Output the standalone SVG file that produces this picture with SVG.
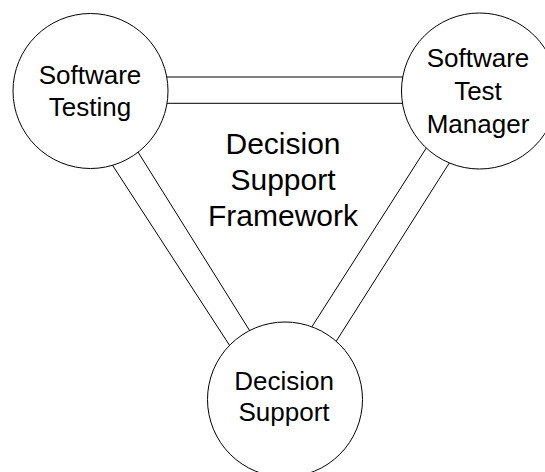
<svg xmlns="http://www.w3.org/2000/svg" width="545" height="472" viewBox="0 0 545 472">
<style>
.c{fill:#fff;stroke:#000;stroke-width:1}
.l{stroke:#000;stroke-width:1;fill:none}
.t{font-family:"Liberation Sans",Arial,sans-serif;font-size:26px;fill:#000;text-anchor:middle}
.m{font-family:"Liberation Sans",Arial,sans-serif;font-size:30px;fill:#000;text-anchor:middle}
</style>
<rect width="545" height="472" fill="#fff"/>
<g id="connectors">
<line class="l" x1="150" y1="77" x2="420" y2="77"/>
<line class="l" x1="150" y1="103.3" x2="420" y2="103.3"/>
<line class="l" x1="101.5" y1="148.3" x2="239.5" y2="360.7"/>
<line class="l" x1="127" y1="134.4" x2="259" y2="345.6"/>
<line class="l" x1="436.2" y1="132.5" x2="301.8" y2="342.5"/>
<line class="l" x1="459.1" y1="147.5" x2="325.9" y2="357.5"/>
</g>
<g id="software-testing">
<circle class="c" cx="90.5" cy="91" r="77.5"/>
<text class="t" x="90" y="83.5">Software</text>
<text class="t" x="90" y="115.5">Testing</text>
</g>
<g id="software-test-manager">
<circle class="c" cx="479.5" cy="91" r="78"/>
<text class="t" x="478" y="67">Software</text>
<text class="t" x="478" y="100">Test</text>
<text class="t" x="478" y="133">Manager</text>
</g>
<g id="decision-support">
<circle class="c" cx="285" cy="399.5" r="77.5"/>
<text class="t" x="284" y="390">Decision</text>
<text class="t" x="284" y="421">Support</text>
</g>
<g id="framework-label">
<text class="m" x="283" y="153.5">Decision</text>
<text class="m" x="283" y="190">Support</text>
<text class="m" x="283" y="225.5">Framework</text>
</g>
</svg>
